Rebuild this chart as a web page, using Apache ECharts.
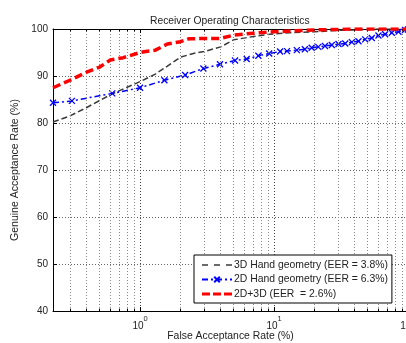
<!DOCTYPE html>
<html>
<head>
<meta charset="utf-8">
<script src="https://cdn.jsdelivr.net/npm/echarts@6/dist/echarts.min.js"></script>
<style>
  html, body { margin: 0; padding: 0; background: #fff; }
  #main { width: 406px; height: 343px; }
</style>
</head>
<body>
<div id="main"></div>
<script>
// ROC curves, FAR (%) on a log axis, GAR (%) on linear axis
var far3D = [0.224, 0.3, 0.4, 0.5, 0.62, 0.8, 1.0, 1.3, 1.6, 2.0, 2.5, 3.0, 4.0, 5.0, 7.0, 9.3, 13, 20, 30, 40, 60, 100];
var gar3D = [80.2, 81.5, 83.3, 84.8, 86.2, 87.6, 88.8, 90.4, 92.1, 94.0, 94.8, 95.2, 96.2, 97.7, 98.4, 98.9, 99.2, 99.4, 99.7, 99.8, 100, 100];

var far2D = [0.224, 0.31, 0.62, 1.0, 1.52, 2.17, 2.97, 3.95, 5.12, 6.25, 7.64, 9.2, 11.1, 12.5, 14.8, 17.0, 19.1, 21.4, 24.0, 27.0, 30.3, 34.0, 38.1, 42.7, 47.9, 53.7, 60.2, 67.5, 75.7, 84.9, 95.0, 100];
var gar2D = [84.3, 84.7, 86.3, 87.5, 89.1, 90.2, 91.6, 92.5, 93.3, 93.6, 94.3, 94.8, 95.2, 95.3, 95.5, 95.7, 96.0, 96.2, 96.4, 96.6, 96.8, 96.9, 97.2, 97.4, 97.8, 98.1, 98.6, 98.9, 99.2, 99.4, 99.8, 99.9];

var farFused = [0.224, 0.3, 0.4, 0.5, 0.6, 0.75, 1.0, 1.1, 1.3, 1.6, 2.0, 2.3, 3.0, 4.0, 5.0, 7.0, 10, 20, 40, 100];
var garFused = [87.5, 89.1, 90.8, 91.9, 93.4, 93.9, 95.0, 95.2, 95.5, 96.8, 97.3, 97.9, 98.0, 98.0, 98.7, 99.1, 99.4, 99.8, 100, 100];

var seriesNames = ['3D Hand geometry (EER = 3.8%)', '2D Hand geometry (EER = 6.3%)', '2D+3D (EER  = 2.6%)'];
var minorTicks = [0.3, 0.4, 0.5, 0.6, 0.7, 0.8, 0.9, 2, 3, 4, 5, 6, 7, 8, 9, 20, 30, 40, 50, 60, 70, 80, 90];
var xMin = 0.224, xMax = 100;
var yMin = 40, yMax = 100, yStep = 10;

function pairs(xs, ys) {
    return xs.map(function (x, i) { return [x, ys[i]]; });
}

var font = 'Liberation Sans, Arial, sans-serif';
var txt = '#222';

// dashed legend icons for the two plain line series
var thinDash = 'path://M0,0h6v1.5h-6zM12,0h6v1.5h-6zM24,0h6v1.5h-6z';
var thickDash = 'path://M0,0h8v3h-8zM11,0h8v3h-8zM22,0h8v3h-8z';

// minor grid lines and minor ticks (bottom and top) at 2..9 of each decade
var minorLines = minorTicks.map(function (v) { return { xAxis: v }; });
var minorTickMarks = [];
minorTicks.forEach(function (v) {
    minorTickMarks.push([{ coord: [v, yMin] }, { coord: [v, yMin + 0.5] }]);
    minorTickMarks.push([{ coord: [v, yMax] }, { coord: [v, yMax - 0.5] }]);
});

var chart = echarts.init(document.getElementById('main'));
var option = {
    backgroundColor: '#fff',
    animation: false,
    title: {
        text: 'Receiver Operating Characteristics',
        left: 145,
        top: 11,
        textStyle: { fontFamily: font, fontSize: 10.3, fontWeight: 'normal', color: txt }
    },
    legend: {
        orient: 'vertical',
        left: 194,
        top: 255,
        z: 10,
        data: [
            { name: seriesNames[0], icon: thinDash },
            { name: seriesNames[1] },
            { name: seriesNames[2], icon: thickDash }
        ],
        itemWidth: 30,
        itemHeight: 7,
        itemGap: 4.5,
        padding: [5, 4, 4, 7],
        borderColor: '#000',
        borderWidth: 1,
        backgroundColor: '#fff',
        selectedMode: false,
        textStyle: { fontFamily: font, fontSize: 10.4, color: txt, padding: [0, 0, 0, -3] }
    },
    grid: { left: 53, right: -2, top: 29, bottom: 32, outerBoundsMode: 'none' },
    xAxis: [
        {
            type: 'log',
            min: xMin,
            max: xMax,
            name: 'False Acceptance Rate (%)',
            nameLocation: 'middle',
            nameGap: 20,
            nameMoveOverlap: false,
            nameTextStyle: { fontFamily: font, fontSize: 10.4, color: txt },
            axisLine: { lineStyle: { color: '#000', width: 1 } },
            axisTick: { inside: true, length: 4, lineStyle: { color: '#000' } },
            axisLabel: {
                showMinLabel: false,
                margin: 4,
                formatter: function (v) {
                    return '{b|10}{e|' + Math.round(Math.log10(v)) + '}';
                },
                rich: {
                    b: { fontFamily: font, fontSize: 10, color: txt, lineHeight: 16, verticalAlign: 'bottom' },
                    e: { fontFamily: font, fontSize: 7.5, color: txt, lineHeight: 16, verticalAlign: 'top' }
                }
            },
            splitLine: { show: true, lineStyle: { color: '#444', type: [1, 2], width: 1 } }
        },
        {
            type: 'log',
            min: xMin,
            max: xMax,
            position: 'top',
            axisLine: { lineStyle: { color: '#000', width: 1 } },
            axisTick: { inside: true, length: 4, lineStyle: { color: '#000' } },
            axisLabel: { show: false },
            splitLine: { show: false }
        }
    ],
    yAxis: {
        type: 'value',
        min: yMin,
        max: yMax,
        interval: yStep,
        name: 'Genuine Acceptance Rate (%)',
        nameLocation: 'middle',
        nameGap: 28,
        nameTextStyle: { fontFamily: font, fontSize: 10.5, color: txt },
        axisLine: { show: true, lineStyle: { color: '#000', width: 1 } },
        axisTick: { show: true, inside: true, length: 4, lineStyle: { color: '#000' } },
        axisLabel: { fontFamily: font, fontSize: 10, color: txt, margin: 5 },
        splitLine: { show: true, lineStyle: { color: '#666', type: [1, 2], width: 1 } }
    },
    series: [
        {
            name: 'grid',
            type: 'line',
            data: [],
            silent: true,
            markLine: {
                silent: true,
                symbol: 'none',
                label: { show: false },
                lineStyle: { color: '#888', type: [1, 2], width: 1 },
                data: minorLines
            }
        },
        {
            name: 'ticks',
            type: 'line',
            data: [],
            silent: true,
            markLine: {
                silent: true,
                symbol: 'none',
                label: { show: false },
                lineStyle: { color: '#000', type: 'solid', width: 1 },
                data: minorTickMarks
            }
        },
        {
            name: seriesNames[0],
            type: 'line',
            data: pairs(far3D, gar3D),
            symbol: 'none',
            color: '#3a3a3a',
            lineStyle: { color: '#3a3a3a', width: 1.5, type: [6, 3] },
            z: 3
        },
        {
            name: seriesNames[1],
            type: 'line',
            data: pairs(far2D, gar2D),
            symbol: 'path://M0,0L10,10M10,0L0,10',
            symbolSize: 6,
            showAllSymbol: true,
            color: '#0000ff',
            itemStyle: { color: '#0000ff', borderColor: '#0000ff', borderWidth: 1.3 },
            lineStyle: { color: '#0000ff', width: 1.5, type: [6, 3, 2, 3] },
            z: 4
        },
        {
            name: seriesNames[2],
            type: 'line',
            data: pairs(farFused, garFused),
            symbol: 'none',
            color: '#ff0000',
            lineStyle: { color: '#ff0000', width: 3.5, type: [8, 4] },
            z: 5
        }
    ]
};
chart.setOption(option);
window.addEventListener('resize', function () { chart.resize(); });
</script>
</body>
</html>
